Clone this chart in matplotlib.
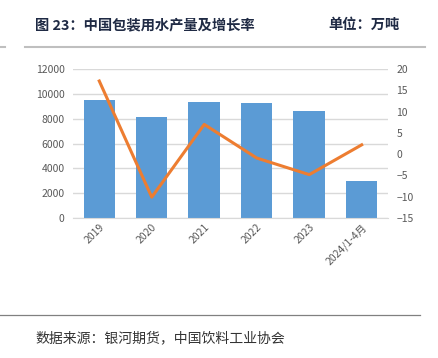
import numpy as np
import matplotlib.pyplot as plt
from matplotlib.lines import Line2D

plt.rcParams['font.family'] = ['Noto Sans CJK SC', 'DejaVu Sans']

categories = ['2019', '2020', '2021', '2022', '2023', '2024/1-4月']
output = [9500, 8150, 9370, 9290, 8650, 2950]      # 万吨
growth = [17.2, -10.1, 7.0, -0.9, -4.8, 2.2]        # %

fig = plt.figure(figsize=(4.38, 3.58), dpi=100)
ax = fig.add_axes([0.1667, 0.391, 0.719, 0.416])
ax2 = ax.twinx()

x = np.arange(len(categories))
ax.bar(x, output, width=0.6, color='#5B9BD5', zorder=2)
ax2.plot(x, growth, color='#ED7D31', lw=2.2, zorder=3)

ax.set_ylim(0, 12000)
ax.set_yticks(np.arange(0, 12001, 2000))
ax2.set_ylim(-15, 20)
ax2.set_yticks(np.arange(-15, 21, 5))
ax.set_xlim(-0.5, len(categories) - 0.5)
ax.set_xticks(x)
ax.set_xticklabels(categories, rotation=45, ha='right', rotation_mode='anchor')

ax.yaxis.grid(True, color='#D9D9D9', lw=1)
ax.set_axisbelow(True)
for a in (ax, ax2):
    for s in a.spines.values():
        s.set_visible(False)
    a.tick_params(length=0, labelsize=7.5, labelcolor='#595959')
ax.tick_params(axis='y', pad=6)
ax2.tick_params(axis='y', pad=6)
ax.tick_params(axis='x', pad=3)
ax.spines['bottom'].set_visible(True)
ax.spines['bottom'].set_color('#D9D9D9')

# header and footer
fig.text(35 / 438, 1 - 25 / 358, '图 23：中国包装用水产量及增长率', fontsize=10.3,
         fontweight='bold', color='#1F2A44', va='center')
fig.text(328 / 438, 1 - 25 / 358, '单位：万吨', fontsize=10.3,
         fontweight='bold', color='#1F2A44', va='center')
fig.add_artist(Line2D([25 / 438, 425 / 438], [1 - 47 / 358] * 2, color='#BFBFBF', lw=1.5))
fig.add_artist(Line2D([0, 5 / 438], [1 - 47 / 358] * 2, color='#BFBFBF', lw=1.5))
fig.add_artist(Line2D([0, 420 / 438], [1 - 315 / 358] * 2, color='#808080', lw=0.9))
fig.text(35 / 438, 1 - 338 / 358, '数据来源：银河期货，中国饮料工业协会', fontsize=10,
         color='#333333', va='center')

fig.savefig('out.png', dpi=100)
